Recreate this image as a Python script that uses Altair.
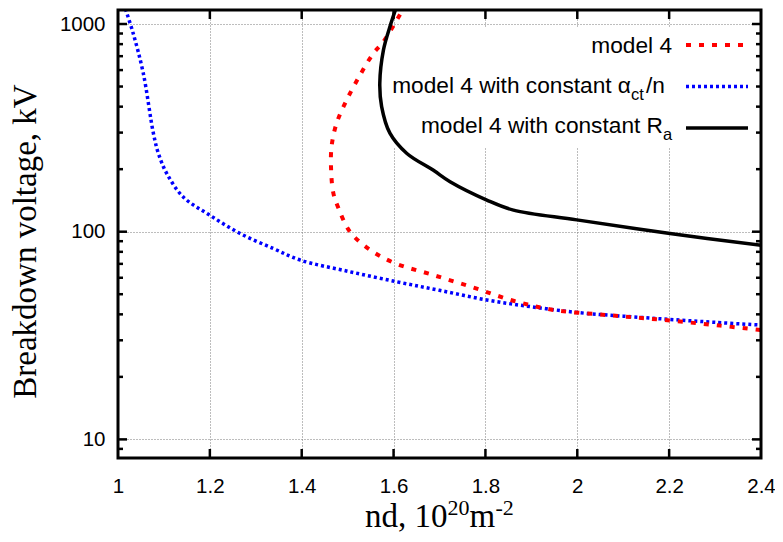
import altair as alt
import pandas as pd

# ---------------- data ----------------
blue_x = [1.012, 1.033, 1.055, 1.077, 1.088, 1.106, 1.142, 1.200, 1.266, 1.338,
          1.396, 1.500, 1.607, 1.700, 1.803, 1.900, 2.006, 2.100, 2.202, 2.300, 2.401]
blue_y = [1260, 902, 580, 298, 238, 191, 147, 120, 98, 83,
          73.1, 64.5, 57.4, 52.2, 46.9, 43.5, 40.7, 39.2, 37.8, 36.6, 35.5]

red_x = [1.628, 1.578, 1.556, 1.527, 1.498, 1.476, 1.465, 1.464, 1.469, 1.480,
         1.505, 1.549, 1.603, 1.686, 1.774, 1.861, 1.948, 2.064, 2.187, 2.311, 2.401]
red_y = [1260, 822, 722, 568, 431, 333, 257, 198, 153, 130,
         100, 81.7, 70.5, 61.9, 53.8, 46.5, 42.0, 39.7, 37.6, 35.3, 33.6]

black_x = [1.609, 1.592, 1.578, 1.570, 1.574, 1.592, 1.629, 1.686, 1.723, 1.803,
           1.861, 1.999, 2.202, 2.401]
black_y = [1260, 970, 750, 518, 400, 298, 238, 198, 174, 142,
           127, 114, 98, 86]

x_tick_values = [1.0, 1.2, 1.4, 1.6, 1.8, 2.0, 2.2, 2.4]
x_inner_ticks = [1.2, 1.4, 1.6, 1.8, 2.0, 2.2]
y_major = [10, 100, 1000]
y_minor = [9, 20, 30, 40, 50, 60, 70, 80, 90, 200, 300, 400, 500, 600, 700, 800, 900]

legend_main = ["model 4", "model 4 with constant \u03b1", "model 4 with constant R"]
legend_subs = ["ct", "a"]
legend_tail = "/n"
y_title = "Breakdown voltage, kV"
x_title_parts = ["nd, 10", "20", "m", "-2"]

# ---------------- layout / style ----------------
W, H = 643, 448
SANS = "Liberation Sans, Arial, Helvetica, sans-serif"
SERIF = "Liberation Serif, Times New Roman, serif"
one = pd.DataFrame({"a": [0]})


def curve_df(xs, ys):
    return pd.DataFrame({"x": xs, "y": ys, "i": list(range(len(xs)))})


xscale = alt.Scale(domain=[1.0, 2.4], nice=False, zero=False)
yscale = alt.Scale(type="log", domain=[8.135, 1168], nice=False)

xaxis = alt.Axis(values=x_tick_values, format="~g", grid=True, gridDash=[1, 2],
                 gridColor="#7a7a7a", gridWidth=1, ticks=False, domain=False,
                 labelFont=SANS, labelFontSize=20.5, labelColor="black",
                 labelPadding=18, labelFlush=False, labelOverlap=False, title="")
yaxis = alt.Axis(values=y_major, format="~g", grid=True, gridDash=[1, 2],
                 gridColor="#7a7a7a", gridWidth=1, ticks=False, domain=False,
                 labelFont=SANS, labelFontSize=20.5, labelColor="black",
                 labelPadding=13, labelOverlap=False, title="")

X = alt.X("x:Q", scale=xscale, axis=xaxis)
Y = alt.Y("y:Q", scale=yscale, axis=yaxis)

layers = []

# opaque key box (hides the grid behind the legend)
layers.append(alt.Chart(one).mark_rect(color="white").encode(
    x=alt.value(272), x2=alt.value(641), y=alt.value(17), y2=alt.value(138)))

# curves
layers.append(alt.Chart(curve_df(blue_x, blue_y)).mark_line(
    color="#0000ff", strokeWidth=3.5, strokeDash=[3, 3], clip=True,
    interpolate="catmull-rom").encode(x=X, y=Y, order="i:Q"))
layers.append(alt.Chart(curve_df(red_x, red_y)).mark_line(
    color="#ff0000", strokeWidth=4, strokeDash=[5, 8], clip=True,
    interpolate="catmull-rom").encode(x=X, y=Y, order="i:Q"))
layers.append(alt.Chart(curve_df(black_x, black_y)).mark_line(
    color="black", strokeWidth=3.5, clip=True,
    interpolate="catmull-rom").encode(x=X, y=Y, order="i:Q"))

# inward ticks
xt = pd.DataFrame({"x": x_inner_ticks})
ymaj = pd.DataFrame({"y": y_major})
ymin = pd.DataFrame({"y": y_minor})
tick_style = dict(color="black", strokeWidth=2.5)
layers.append(alt.Chart(xt).mark_rule(**tick_style).encode(
    x=X, y=alt.value(H), y2=alt.value(H - 9)))
layers.append(alt.Chart(xt).mark_rule(**tick_style).encode(
    x=X, y=alt.value(0), y2=alt.value(9)))
layers.append(alt.Chart(ymaj).mark_rule(**tick_style).encode(
    y=Y, x=alt.value(0), x2=alt.value(9)))
layers.append(alt.Chart(ymaj).mark_rule(**tick_style).encode(
    y=Y, x=alt.value(W), x2=alt.value(W - 9)))
layers.append(alt.Chart(ymin).mark_rule(**tick_style).encode(
    y=Y, x=alt.value(0), x2=alt.value(5)))
layers.append(alt.Chart(ymin).mark_rule(**tick_style).encode(
    y=Y, x=alt.value(W), x2=alt.value(W - 5)))

# frame
layers.append(alt.Chart(one).mark_rect(filled=False, stroke="black", strokeWidth=3).encode(
    x=alt.value(0), x2=alt.value(W), y=alt.value(0), y2=alt.value(H)))

# legend samples
layers.append(alt.Chart(one).mark_rule(color="#ff0000", strokeWidth=4, strokeDash=[5, 8]).encode(
    x=alt.value(568), x2=alt.value(630), y=alt.value(35)))
layers.append(alt.Chart(one).mark_rule(color="#0000ff", strokeWidth=3.5, strokeDash=[3, 3]).encode(
    x=alt.value(568), x2=alt.value(630), y=alt.value(76.5)))
layers.append(alt.Chart(one).mark_rule(color="black", strokeWidth=3.5).encode(
    x=alt.value(568), x2=alt.value(630), y=alt.value(118)))


# text helper
def txt(text, x, y, size, align="left", font=SANS, angle=0):
    kw = dict(align=align, baseline="alphabetic", font=font, fontSize=size, color="black")
    if angle:
        kw["angle"] = angle
    return alt.Chart(one).mark_text(**kw).encode(
        x=alt.value(x), y=alt.value(y), text=alt.value(text))


LF = 22.7
layers.append(txt(legend_main[0], 554, 43, LF, "right"))
layers.append(txt(legend_main[1], 513, 83, LF, "right"))
layers.append(txt(legend_subs[0], 513, 90, 16.5, "left"))
layers.append(txt(legend_tail, 528, 83, LF, "left"))
layers.append(txt(legend_main[2], 545, 123, LF, "right"))
layers.append(txt(legend_subs[1], 545, 130, 16.5, "left"))

# axis titles
layers.append(txt(y_title, -82, 231.5, 33, "center", SERIF, 270))
layers.append(txt(x_title_parts[0], 247, 517, 33, "left", SERIF))
layers.append(txt(x_title_parts[1], 329.5, 505, 22, "left", SERIF))
layers.append(txt(x_title_parts[2], 351.5, 517, 33, "left", SERIF))
layers.append(txt(x_title_parts[3], 377.5, 505, 22, "left", SERIF))

chart = alt.layer(*layers).properties(
    width=W, height=H,
    padding={"left": 110, "top": 2, "right": 14, "bottom": 76},
    autosize=alt.AutoSizeParams(type="none"),
).configure_view(strokeWidth=0)

chart.save("out.html", embed_options={"renderer": "svg", "actions": False})
